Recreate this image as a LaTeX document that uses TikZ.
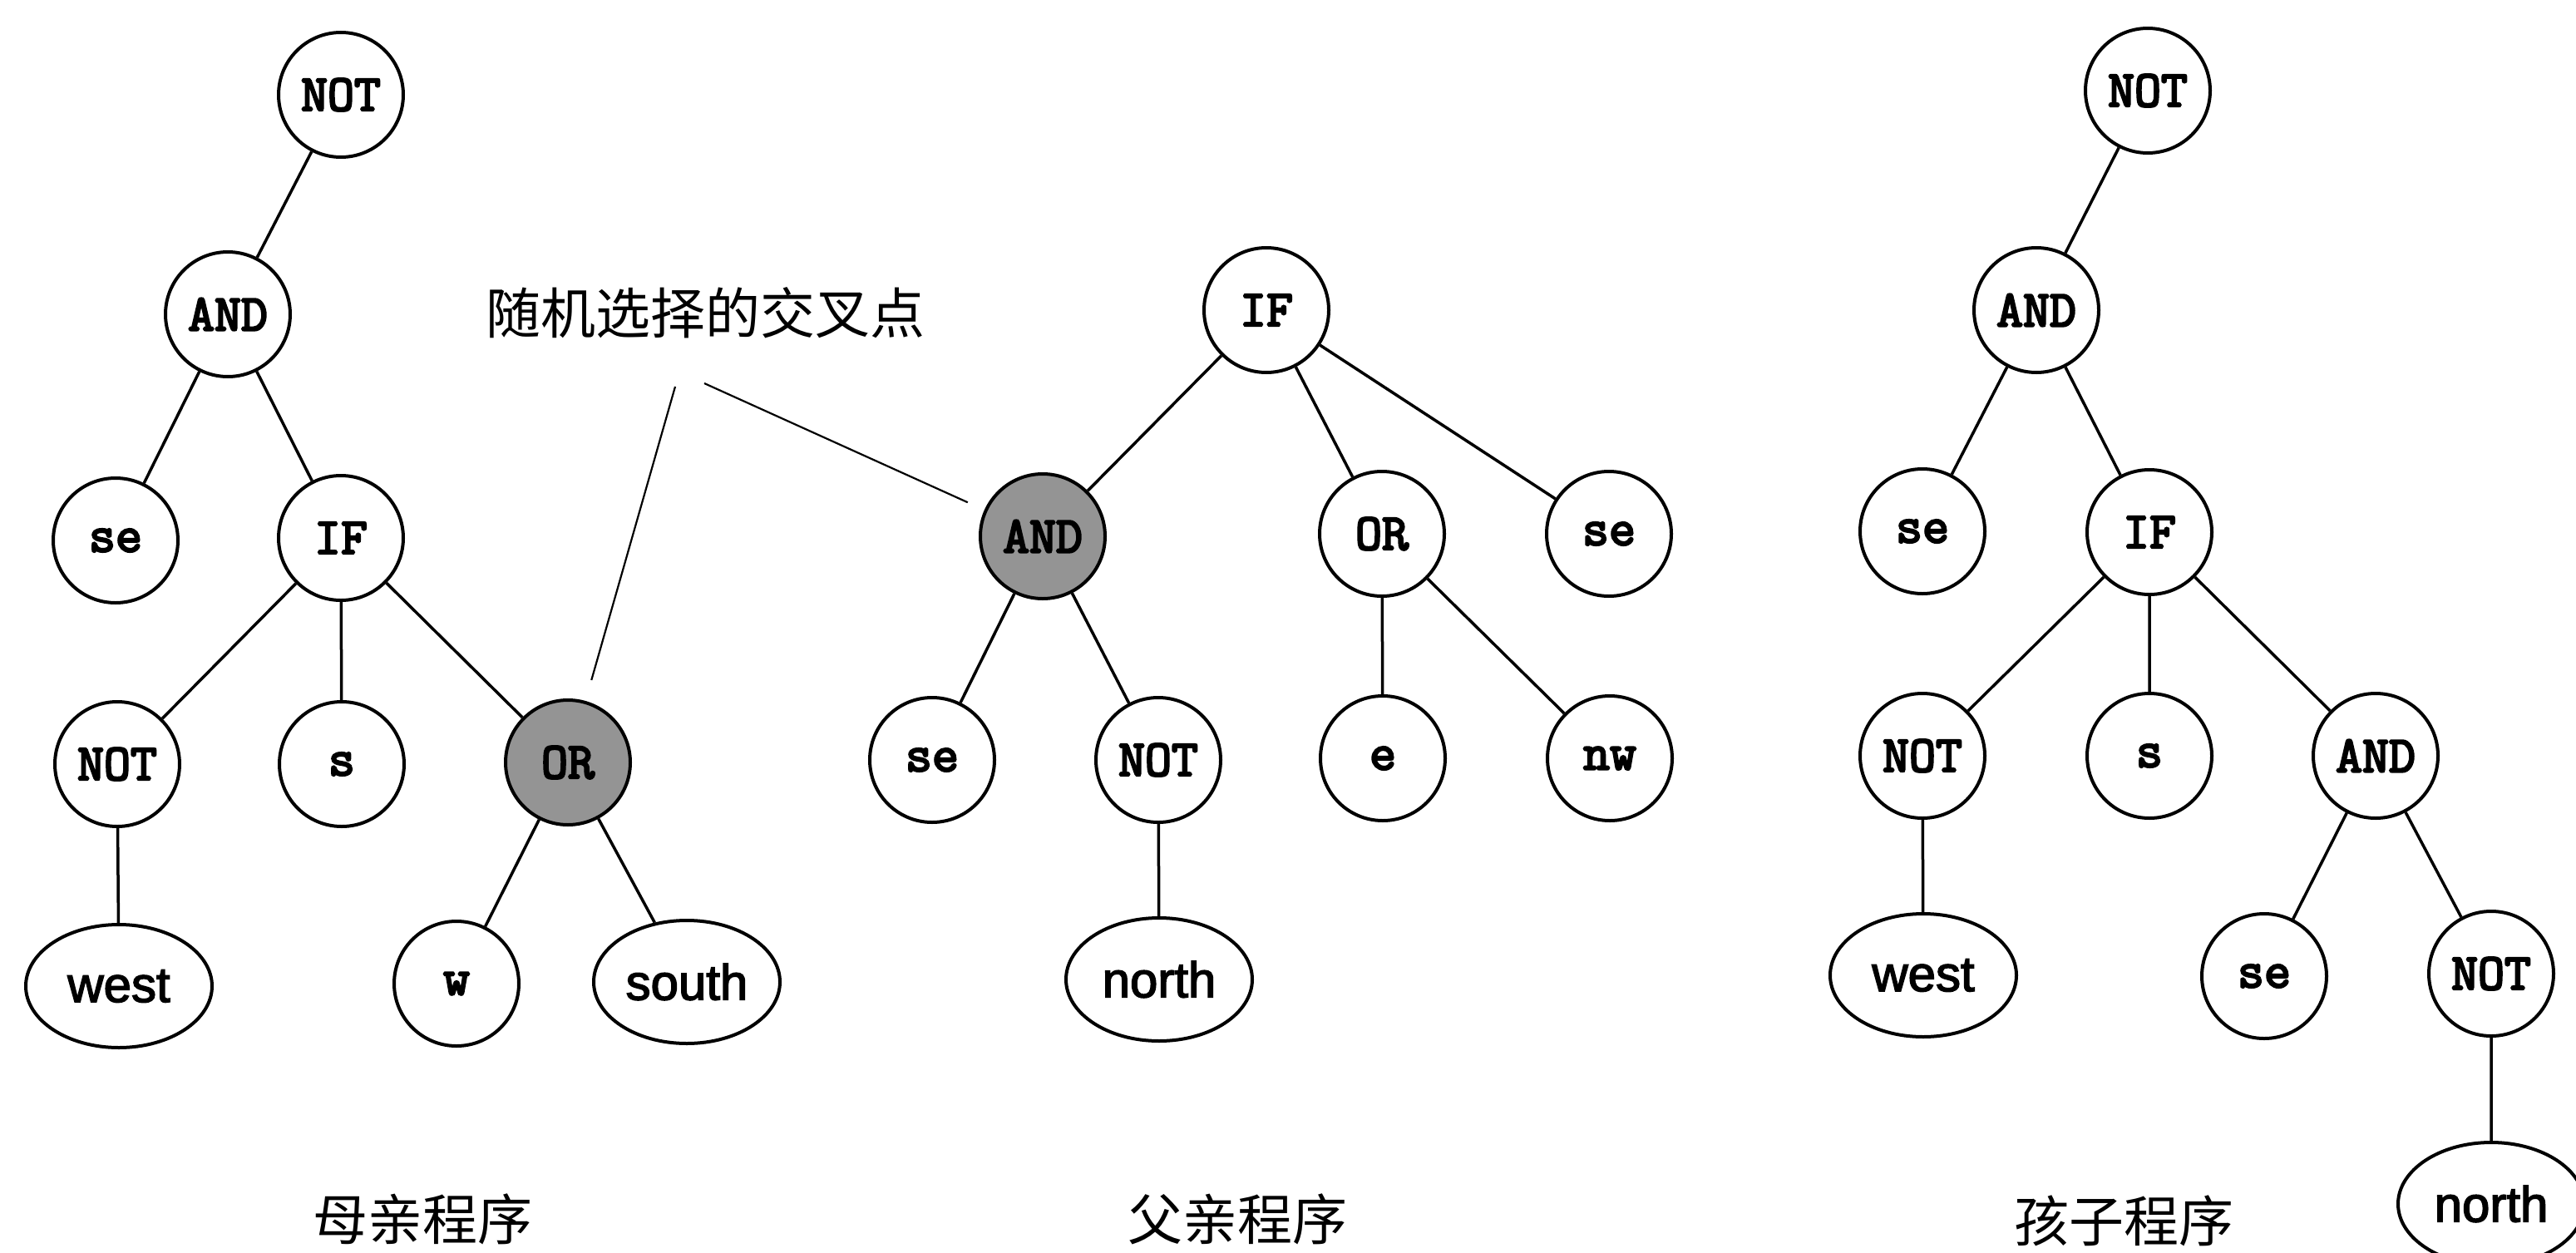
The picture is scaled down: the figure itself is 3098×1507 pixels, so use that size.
\documentclass[tikz,border=0pt]{standalone}
\usepackage{fontspec}
\usetikzlibrary{shapes.geometric}
\newfontfamily\cjk{Noto Sans CJK SC}
\newfontfamily\nodett{Latin Modern Mono}[FakeBold=4]
\newfontfamily\nodesf{Liberation Sans}[FakeBold=2.5]
\tikzset{
  tn/.style={draw, circle, line width=4pt, minimum size=150pt, inner sep=0pt,
    font=\nodett\fontsize{62}{62}\selectfont},
  lf/.style={draw, ellipse, line width=4pt, minimum width=224pt, minimum height=148pt, inner sep=0pt,
    font=\nodesf\fontsize{60}{60}\selectfont},
  hl/.style={fill=black!42},
  edge/.style={line width=3.5pt},
  lead/.style={line width=2.2pt},
  captxt/.style={font=\cjk\fontsize{66}{66}\selectfont, inner sep=0pt}
}
\begin{document}
\begin{tikzpicture}[x=1pt,y=-1pt]
\useasboundingbox (0,0) rectangle (3098,1507);
% mother
\node[tn] (m1) at (410,114) {NOT};
\node[tn] (m2) at (274,378) {AND};
\node[tn] (m3) at (139,650) {se};
\node[tn] (m4) at (410,647) {IF};
\node[tn] (m5) at (141,919) {NOT};
\node[tn] (m6) at (411,919) {s};
\node[tn,hl] (m7) at (683,917) {OR};
\node[lf] (m8) at (143,1186) {west};
\node[tn] (m9) at (549,1183) {w};
\node[lf] (m10) at (826,1181) {south};
\draw[edge] (m1)--(m2) (m2)--(m3) (m2)--(m4) (m4)--(m5) (m4)--(m6) (m4)--(m7)
  (m5)--(m8) (m7)--(m9) (m7)--(m10);
% father
\node[tn] (f1) at (1523,373) {IF};
\node[tn,hl] (f2) at (1254,645) {AND};
\node[tn] (f3) at (1662,642) {OR};
\node[tn] (f4) at (1935,642) {se};
\node[tn] (f5) at (1121,914) {se};
\node[tn] (f6) at (1393,914) {NOT};
\node[tn] (f7) at (1663,912) {e};
\node[tn] (f8) at (1936,912) {nw};
\node[lf] (f9) at (1394,1178) {north};
\draw[edge] (f1)--(f2) (f1)--(f3) (f1)--(f4) (f2)--(f5) (f2)--(f6) (f3)--(f7) (f3)--(f8) (f6)--(f9);
% child
\node[tn] (c1) at (2583,109) {NOT};
\node[tn] (c2) at (2449,373) {AND};
\node[tn] (c3) at (2312,639) {se};
\node[tn] (c4) at (2585,640) {IF};
\node[tn] (c5) at (2312,909) {NOT};
\node[tn] (c6) at (2585,909) {s};
\node[tn] (c7) at (2857,909) {AND};
\node[lf] (c8) at (2313,1173) {west};
\node[tn] (c9) at (2723,1174) {se};
\node[tn] (c10) at (2996,1171) {NOT};
\node[lf] (c11) at (2996,1448) {north};
\draw[edge] (c1)--(c2) (c2)--(c3) (c2)--(c4) (c4)--(c5) (c4)--(c6) (c4)--(c7)
  (c5)--(c8) (c7)--(c9) (c7)--(c10) (c10)--(c11);
% labels
\node[captxt, anchor=west] (lab) at (584,376) {随机选择的交叉点};
\coordinate (l1) at (812,465);
\coordinate (l2) at (847,461);
\draw[lead, shorten >=26pt] (l1) -- (m7);
\draw[lead, shorten >=22pt] (l2) -- (f2);
\node[captxt] (tm) at (508,1466) {母亲程序};
\node[captxt] (tf) at (1488,1466) {父亲程序};
\node[captxt] (tc) at (2554,1468) {孩子程序};
\end{tikzpicture}
\end{document}
